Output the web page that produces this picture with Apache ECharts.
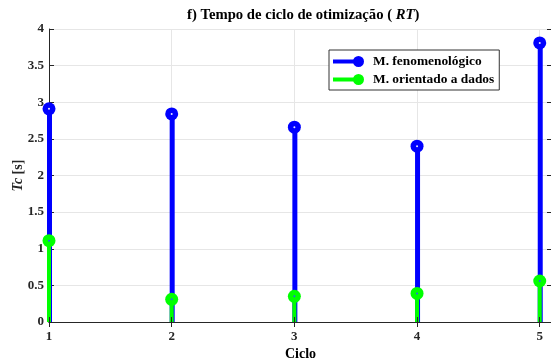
<!DOCTYPE html>
<html lang="pt">
<head>
  <meta charset="UTF-8">
  <script src="https://cdn.jsdelivr.net/npm/echarts@6/dist/echarts.min.js"></script>
  <style>html,body{margin:0;padding:0;background:#fff;}</style>
</head>
<body>
<div id="main" style="width:551px;height:358px;"></div>
<script>
  var ciclos = [1, 2, 3, 4, 5];
  var fenomenologico = [2.91, 2.84, 2.66, 2.40, 3.81];
  var orientado = [1.11, 0.31, 0.35, 0.39, 0.56];
  var yTicks = [0, 0.5, 1, 1.5, 2, 2.5, 3, 3.5, 4];

  function pares(v) {
    var out = [];
    for (var i = 0; i < ciclos.length; i++) out.push([ciclos[i], v[i]]);
    return out;
  }

  var fonte = 'Liberation Serif';
  var azul = '#0000ff';
  var verde = '#00ff00';
  // linha grossa + circulo, como a amostra do MATLAB
  var icone = 'path://M0,3.5H22V7.5H0Z M20,5.5A5.5,5.5 0 1 1 31,5.5A5.5,5.5 0 1 1 20,5.5Z';

  var main = echarts.init(document.querySelector('#main'));

  main.setOption({
    animation: false,
    textStyle: {fontFamily: fonte},
    title: {
      text: 'f) Tempo de ciclo de otimização ( {i|RT})',
      left: 182, top: 3,
      textStyle: {fontFamily: fonte, fontWeight: 'bold', fontSize: 14.7, color: '#000',
        rich: {i: {fontFamily: fonte, fontWeight: 'bold', fontStyle: 'italic', fontSize: 14.7, color: '#000'}}}
    },
    legend: {
      orient: 'vertical', left: 329, top: 50,
      padding: [5, 5, 4, 4], itemGap: 5,
      itemWidth: 31, itemHeight: 11,
      backgroundColor: '#fff', borderColor: '#333', borderWidth: 1,
      textStyle: {fontFamily: fonte, fontWeight: 'bold', fontSize: 13.4, color: '#000', padding: [0, 0, 0, 4]},
      data: [
        {name: 'M. fenomenológico', icon: icone, itemStyle: {color: azul}},
        {name: 'M. orientado a dados', icon: icone, itemStyle: {color: verde}}
      ]
    },
    grid: {left: 49, right: -1, top: 29, bottom: 36, containLabel: false, outerBoundsMode: 'none'},
    xAxis: [{
      type: 'value', min: 1, max: 5.1, interval: 1, position: 'bottom', z: 5,
      name: 'Ciclo', nameLocation: 'middle', nameGap: 25, nameMoveOverlap: false,
      nameTextStyle: {fontFamily: fonte, fontWeight: 'bold', fontSize: 14, color: '#000', verticalAlign: 'top'},
      axisLine: {show: true, lineStyle: {color: '#262626', width: 1}},
      axisTick: {show: true, inside: true, length: 5, lineStyle: {color: '#262626'}},
      axisLabel: {fontFamily: fonte, fontWeight: 'bold', fontSize: 13, color: '#262626', margin: 8,
        formatter: function (v) { return ciclos.indexOf(v) >= 0 ? String(v) : ''; }},
      splitLine: {show: false}
    }, {
      type: 'value', min: 1, max: 5.1, interval: 1, position: 'top', z: 0,
      axisLine: {show: true, lineStyle: {color: '#262626', width: 1}},
      axisTick: {show: true, inside: true, length: 5, lineStyle: {color: '#262626'}},
      axisLabel: {show: false},
      splitLine: {show: true, lineStyle: {color: '#e6e6e6', width: 1}}
    }],
    yAxis: [{
      type: 'value', min: 0, max: 4, interval: 0.5, position: 'left', z: 0,
      name: '{i|Tc} [s]', nameLocation: 'middle', nameGap: 24, nameRotate: 90, nameMoveOverlap: false,
      nameTextStyle: {fontFamily: fonte, fontWeight: 'bold', fontSize: 14, color: '#262626',
        rich: {i: {fontFamily: fonte, fontWeight: 'bold', fontStyle: 'italic', fontSize: 14, color: '#262626'}}},
      axisLine: {show: true, lineStyle: {color: '#262626', width: 1}},
      axisTick: {show: true, inside: true, length: 5, lineStyle: {color: '#262626'}},
      axisLabel: {fontFamily: fonte, fontWeight: 'bold', fontSize: 13, color: '#262626', margin: 5,
        formatter: function (v) { return yTicks.indexOf(v) >= 0 ? String(v) : ''; }},
      splitLine: {show: false}
    }, {
      type: 'value', min: 0, max: 4, interval: 0.5, position: 'right', z: 0,
      axisLine: {show: true, lineStyle: {color: '#262626', width: 1}},
      axisTick: {show: true, inside: true, length: 5, lineStyle: {color: '#262626'}},
      axisLabel: {show: false},
      splitLine: {show: true, lineStyle: {color: '#e6e6e6', width: 1}}
    }],
    series: [{
      name: 'M. fenomenológico', type: 'bar', xAxisIndex: 0, yAxisIndex: 0,
      barWidth: 5, barGap: '-100%', itemStyle: {color: azul},
      data: pares(fenomenologico)
    }, {
      name: 'M. orientado a dados', type: 'bar', xAxisIndex: 0, yAxisIndex: 0,
      barWidth: 4, barGap: '-100%', itemStyle: {color: verde},
      data: pares(orientado)
    }, {
      name: 'M. fenomenológico', type: 'scatter', xAxisIndex: 0, yAxisIndex: 0,
      symbol: 'circle', symbolSize: 13, itemStyle: {color: azul, opacity: 1},
      data: pares(fenomenologico)
    }, {
      name: 'M. orientado a dados', type: 'scatter', xAxisIndex: 0, yAxisIndex: 0,
      symbol: 'circle', symbolSize: 13, itemStyle: {color: verde, opacity: 1},
      data: pares(orientado)
    }, {
      // pontinho no centro do marcador
      type: 'scatter', xAxisIndex: 0, yAxisIndex: 0, silent: true,
      symbol: 'circle', symbolSize: 2, itemStyle: {color: '#e8e8ff', opacity: 1},
      data: pares(fenomenologico)
    }, {
      type: 'scatter', xAxisIndex: 0, yAxisIndex: 0, silent: true,
      symbol: 'circle', symbolSize: 2, itemStyle: {color: '#2a5cff', opacity: 1},
      data: pares(orientado)
    }]
  });
</script>
</body>
</html>
